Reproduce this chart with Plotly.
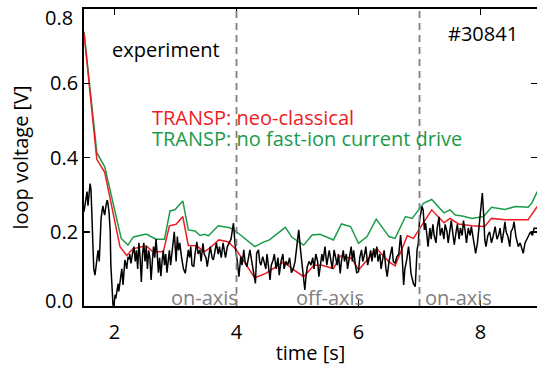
import plotly.graph_objects as go

# ---------------- data ----------------
# TRANSP: no fast-ion current drive (green)
t_nofi = [1.50, 1.71, 1.84, 2.11, 2.22, 2.31, 2.52, 2.68, 2.82, 2.91, 2.99, 3.12, 3.21, 3.32,
          3.40, 3.48, 3.54, 3.70, 3.89, 4.00, 4.30, 4.44, 4.54, 4.80, 4.91, 5.10, 5.24, 5.37,
          5.59, 5.72, 5.87, 6.00, 6.14, 6.29, 6.50, 6.60, 6.77, 6.88, 7.07, 7.20, 7.40, 7.50,
          7.59, 7.72, 7.86, 8.05, 8.18, 8.40, 8.57, 8.78, 8.84, 8.93]
v_nofi = [0.739, 0.413, 0.375, 0.182, 0.164, 0.186, 0.194, 0.180, 0.180, 0.256, 0.259, 0.283,
          0.205, 0.202, 0.190, 0.193, 0.189, 0.216, 0.211, 0.200, 0.160, 0.172, 0.178, 0.212,
          0.185, 0.164, 0.191, 0.193, 0.178, 0.221, 0.214, 0.169, 0.187, 0.234, 0.187, 0.182,
          0.241, 0.236, 0.277, 0.287, 0.251, 0.259, 0.245, 0.242, 0.236, 0.241, 0.266, 0.260,
          0.268, 0.266, 0.277, 0.308]

# TRANSP: neo-classical (red)
t_neo = [1.50, 1.71, 1.84, 2.09, 2.20, 2.30, 2.52, 2.63, 2.80, 2.90, 3.01, 3.12, 3.21, 3.35,
         3.47, 3.57, 3.71, 3.86, 3.99, 4.30, 4.48, 4.77, 4.94, 5.10, 5.27, 5.40, 5.59, 5.70,
         5.89, 6.00, 6.30, 6.50, 6.60, 6.80, 6.90, 7.07, 7.20, 7.40, 7.50, 7.64, 7.86, 8.07,
         8.18, 8.40, 8.78, 8.93]
v_neo = [0.735, 0.395, 0.360, 0.160, 0.136, 0.154, 0.162, 0.146, 0.146, 0.216, 0.220, 0.241,
         0.163, 0.162, 0.146, 0.157, 0.178, 0.173, 0.153, 0.076, 0.088, 0.119, 0.097, 0.079,
         0.110, 0.110, 0.101, 0.135, 0.128, 0.097, 0.154, 0.119, 0.108, 0.189, 0.182, 0.224,
         0.259, 0.224, 0.236, 0.221, 0.216, 0.214, 0.236, 0.232, 0.232, 0.268]

# experiment (black)
t_exp = [1.500, 1.525, 1.550, 1.565, 1.580, 1.600, 1.615, 1.630, 1.650, 1.660, 1.680, 1.700,
         1.710, 1.730, 1.750, 1.760, 1.780, 1.800, 1.810, 1.830, 1.840, 1.860, 1.880, 1.890,
         1.910, 1.930, 1.940, 1.960, 1.975, 1.990, 2.010, 2.020, 2.040, 2.060, 2.070, 2.090,
         2.110, 2.120, 2.140, 2.160, 2.170, 2.190, 2.200, 2.220, 2.240, 2.250, 2.270, 2.300,
         2.32, 2.34, 2.36, 2.38, 2.40, 2.42, 2.44, 2.46, 2.48, 2.50, 2.52, 2.54, 2.56, 2.58,
         2.60, 2.62, 2.64, 2.66, 2.68, 2.70, 2.72, 2.74, 2.76, 2.78, 2.80, 2.82, 2.84, 2.86,
         2.88, 2.90, 2.92, 2.94, 2.96, 2.98, 3.01, 3.03, 3.05, 3.07, 3.10, 3.13, 3.16, 3.18,
         3.21, 3.23, 3.25, 3.27, 3.30, 3.32, 3.35, 3.37, 3.40, 3.42, 3.45, 3.47, 3.50, 3.52,
         3.55, 3.57, 3.60, 3.62, 3.65, 3.67, 3.70, 3.72, 3.75, 3.78, 3.80, 3.82, 3.85, 3.88,
         3.91, 3.95, 3.98, 4.01, 4.04, 4.07, 4.09, 4.12, 4.14, 4.17, 4.20, 4.22, 4.25, 4.28,
         4.31, 4.33, 4.36, 4.38, 4.40, 4.43, 4.45, 4.48, 4.50, 4.53, 4.55, 4.57, 4.60, 4.62,
         4.65, 4.68, 4.70, 4.73, 4.76, 4.78, 4.81, 4.84, 4.87, 4.90, 4.93, 4.96, 4.99, 5.02,
         5.05, 5.07, 5.10, 5.12, 5.14, 5.16, 5.19, 5.22, 5.25, 5.27, 5.30, 5.33, 5.35, 5.37,
         5.40, 5.42, 5.45, 5.48, 5.50, 5.52, 5.55, 5.57, 5.60, 5.62, 5.65, 5.67, 5.70, 5.72,
         5.75, 5.77, 5.80, 5.82, 5.85, 5.88, 5.90, 5.92, 5.95, 5.97, 6.00, 6.02, 6.05, 6.07,
         6.10, 6.12, 6.15, 6.17, 6.20, 6.22, 6.25, 6.27, 6.30, 6.32, 6.35, 6.37, 6.40, 6.42,
         6.45, 6.47, 6.50, 6.52, 6.55, 6.57, 6.60, 6.63, 6.66, 6.69, 6.71, 6.74, 6.76, 6.79,
         6.82, 6.84, 6.86, 6.90, 6.93, 6.96, 6.98, 7.00, 7.04, 7.06, 7.08, 7.10, 7.12, 7.14,
         7.17, 7.19, 7.22, 7.24, 7.27, 7.29, 7.32, 7.34, 7.37, 7.40, 7.42, 7.45, 7.47, 7.50,
         7.52, 7.55, 7.57, 7.60, 7.62, 7.65, 7.67, 7.70, 7.72, 7.75, 7.77, 7.80, 7.83, 7.85,
         7.88, 7.92, 7.95, 7.98, 8.03, 8.05, 8.07, 8.09, 8.12, 8.15, 8.18, 8.21, 8.24, 8.27,
         8.30, 8.32, 8.35, 8.38, 8.40, 8.42, 8.45, 8.48, 8.50, 8.53, 8.55, 8.58, 8.62, 8.65,
         8.68, 8.70, 8.73, 8.76, 8.79, 8.82, 8.85, 8.88, 8.91, 8.93]
v_exp = [0.254, 0.280, 0.308, 0.270, 0.290, 0.330, 0.312, 0.220, 0.146, 0.100, 0.083, 0.110,
         0.137, 0.150, 0.120, 0.170, 0.236, 0.260, 0.270, 0.250, 0.245, 0.270, 0.285, 0.280,
         0.254, 0.200, 0.110, 0.050, 0.003, 0.000, 0.030, 0.020, 0.048, 0.060, 0.039, 0.070,
         0.083, 0.100, 0.057, 0.090, 0.124, 0.110, 0.100, 0.130, 0.128, 0.140, 0.115, 0.146,
         0.160, 0.120, 0.150, 0.100, 0.170, 0.130, 0.065, 0.140, 0.170, 0.120, 0.160, 0.100,
         0.150, 0.130, 0.070, 0.120, 0.160, 0.130, 0.180, 0.140, 0.090, 0.130, 0.080, 0.120,
         0.150, 0.110, 0.140, 0.090, 0.130, 0.150, 0.110, 0.140, 0.170, 0.200, 0.120, 0.187,
         0.150, 0.170, 0.130, 0.100, 0.088, 0.120, 0.151, 0.130, 0.160, 0.110, 0.106, 0.140,
         0.173, 0.140, 0.151, 0.120, 0.169, 0.140, 0.130, 0.106, 0.140, 0.160, 0.130, 0.124,
         0.150, 0.170, 0.140, 0.160, 0.130, 0.170, 0.150, 0.130, 0.160, 0.170, 0.180, 0.223,
         0.160, 0.124, 0.079, 0.133, 0.110, 0.151, 0.120, 0.106, 0.140, 0.151, 0.120, 0.090,
         0.061, 0.142, 0.151, 0.120, 0.110, 0.133, 0.120, 0.100, 0.140, 0.090, 0.070, 0.110,
         0.124, 0.140, 0.100, 0.130, 0.083, 0.120, 0.140, 0.100, 0.120, 0.110, 0.130, 0.090,
         0.100, 0.120, 0.160, 0.205, 0.150, 0.115, 0.060, 0.043, 0.080, 0.106, 0.120, 0.110,
         0.130, 0.100, 0.140, 0.120, 0.079, 0.110, 0.140, 0.120, 0.160, 0.110, 0.130, 0.150,
         0.120, 0.100, 0.151, 0.130, 0.110, 0.140, 0.088, 0.120, 0.150, 0.120, 0.140, 0.100,
         0.130, 0.160, 0.120, 0.150, 0.110, 0.090, 0.092, 0.130, 0.151, 0.120, 0.140, 0.160,
         0.110, 0.130, 0.150, 0.120, 0.155, 0.130, 0.160, 0.120, 0.140, 0.100, 0.130, 0.150,
         0.100, 0.079, 0.120, 0.140, 0.160, 0.120, 0.115, 0.133, 0.140, 0.191, 0.151, 0.057,
         0.100, 0.124, 0.160, 0.130, 0.088, 0.060, 0.052, 0.151, 0.169, 0.230, 0.268, 0.259,
         0.205, 0.223, 0.187, 0.160, 0.210, 0.180, 0.220, 0.190, 0.170, 0.210, 0.240, 0.190,
         0.210, 0.180, 0.220, 0.200, 0.170, 0.210, 0.230, 0.190, 0.165, 0.200, 0.220, 0.180,
         0.210, 0.190, 0.230, 0.200, 0.170, 0.210, 0.190, 0.214, 0.187, 0.142, 0.170, 0.214,
         0.304, 0.250, 0.178, 0.160, 0.190, 0.200, 0.170, 0.190, 0.214, 0.180, 0.193, 0.210,
         0.170, 0.200, 0.227, 0.200, 0.187, 0.160, 0.200, 0.210, 0.227, 0.187, 0.160, 0.170,
         0.150, 0.142, 0.170, 0.180, 0.187, 0.200, 0.190, 0.210, 0.209, 0.210]

phase_boundaries = [4, 7]
phase_labels = ["on-axis", "off-axis", "on-axis"]
phase_label_x = [2.89, 4.95, 7.06]
x_ticks = [2, 4, 6, 8]
y_ticks = [0.0, 0.2, 0.4, 0.6, 0.8]
y_ticklabels = ["0.0", "0.2", "0.4", "0.6", "0.8"]

RED = "#ed1c24"
GREEN = "#1b9a48"
FONT = "Open Sans"

fig = go.Figure()
fig.add_trace(go.Scatter(x=t_nofi, y=v_nofi, mode="lines",
                         line=dict(color=GREEN, width=1.5), name="TRANSP: no fast-ion current drive"))
fig.add_trace(go.Scatter(x=t_neo, y=v_neo, mode="lines",
                         line=dict(color=RED, width=1.5), name="TRANSP: neo-classical"))
fig.add_trace(go.Scatter(x=t_exp, y=v_exp, mode="lines",
                         line=dict(color="black", width=1.5), name="experiment"))

for xb in phase_boundaries:
    fig.add_shape(type="line", x0=xb, x1=xb, y0=0, y1=1, xref="x", yref="y domain",
                  line=dict(color="#808080", width=1.8, dash="7px,5px"))

ann_font = dict(family=FONT, size=20)
fig.add_annotation(x=1.93, y=0.69, text="experiment", showarrow=False, xanchor="left",
                   yanchor="middle", font=dict(ann_font, color="black"))
fig.add_annotation(x=7.43, y=0.735, text="#30841", showarrow=False, xanchor="left",
                   yanchor="middle", font=dict(ann_font, color="black"))
fig.add_annotation(x=2.58, y=0.509, text="TRANSP: neo-classical", showarrow=False, xanchor="left",
                   yanchor="middle", font=dict(ann_font, color=RED))
fig.add_annotation(x=2.58, y=0.452, text="TRANSP: no fast-ion current drive", showarrow=False,
                   xanchor="left", yanchor="middle", font=dict(ann_font, color=GREEN))
for lab, lx in zip(phase_labels, phase_label_x):
    fig.add_annotation(x=lx, y=0.022, text=lab, showarrow=False, xanchor="left",
                       yanchor="middle", font=dict(ann_font, color="#808080"))

# end tick labels of the y axis are pulled inside the frame (as in the original)
inner_ticktext = [lab if 0 < v < 0.8 else "" for v, lab in zip(y_ticks, y_ticklabels)]
for v, lab in zip(y_ticks, y_ticklabels):
    if v == 0.0 or v == 0.8:
        fig.add_annotation(x=0, xref="paper", y=v, yref="y", text=lab, showarrow=False,
                           xanchor="right", yanchor="middle", xshift=-9,
                           yshift=(6 if v == 0.0 else -8),
                           font=dict(ann_font, color="black"))

axis_common = dict(showline=True, linecolor="black", linewidth=1.8, mirror="ticks",
                   ticks="inside", ticklen=6, tickwidth=1.5, tickcolor="black",
                   showgrid=False, zeroline=False, automargin=False,
                   ticklabeloverflow="allow",
                   tickfont=dict(family=FONT, size=20, color="black"))

fig.update_layout(
    width=537, height=370,
    margin=dict(l=84, r=0, t=9, b=64),
    paper_bgcolor="white", plot_bgcolor="white",
    showlegend=False, hovermode=False,
    font=dict(family=FONT, size=20, color="black"),
    xaxis=dict(axis_common, range=[1.5, 8.926], tickvals=x_ticks, ticklabelstandoff=7,
               title=dict(text="time [s]", font=dict(family=FONT, size=20), standoff=2)),
    yaxis=dict(axis_common, range=[0, 0.8], tickvals=y_ticks, ticktext=inner_ticktext,
               title=dict(text="loop voltage [V]", font=dict(family=FONT, size=20), standoff=16)),
)

fig.write_html("out.html", config={"displayModeBar": False, "staticPlot": True},
               post_script="document.body.style.margin='0';document.body.style.overflow='hidden';")
